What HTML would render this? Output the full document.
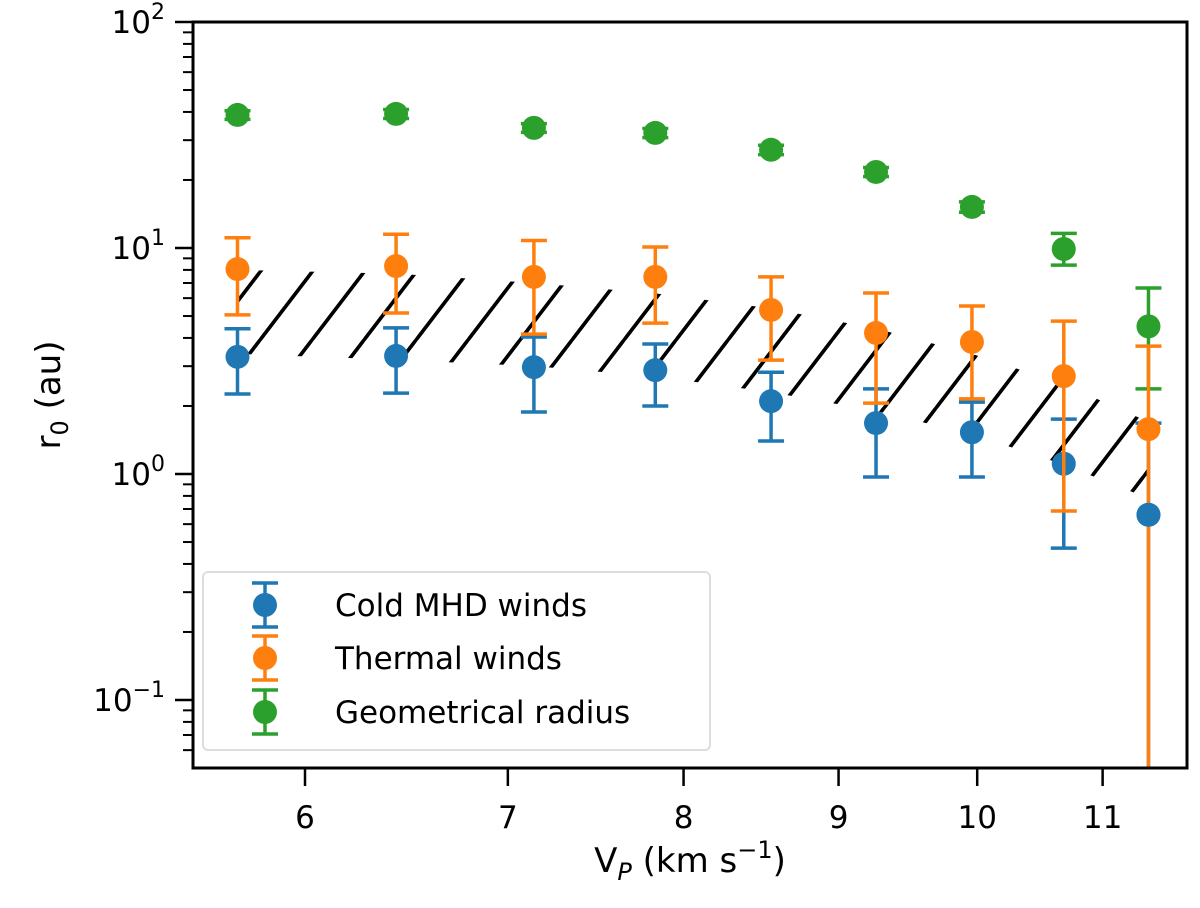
<!DOCTYPE html>
<html><head><meta charset="utf-8"><style>
html,body{margin:0;padding:0;background:#fff;}
svg{display:block;font-family:"DejaVu Sans","Liberation Sans",sans-serif;}
</style></head><body>
<svg id="chart" width="1200" height="908" viewBox="0 0 1200 908" xmlns="http://www.w3.org/2000/svg">
<defs>
<pattern id="hatch" patternUnits="userSpaceOnUse" width="52" height="68">
<line x1="-26" y1="102" x2="52" y2="0" stroke="#000" stroke-width="3.5"/>
<line x1="0" y1="68" x2="52" y2="0" stroke="#000" stroke-width="3.5"/>
<line x1="26" y1="102" x2="104" y2="0" stroke="#000" stroke-width="3.5"/>
<line x1="-26" y1="34" x2="26" y2="-34" stroke="#000" stroke-width="3.5"/>
</pattern>
<clipPath id="plotclip"><rect x="193" y="22" width="994" height="746"/></clipPath>
</defs>
<g id="plot" clip-path="url(#plotclip)"></g>
<g id="axes"></g>
</svg>
<script>
const xVals = [5.70, 6.43, 7.14, 7.83, 8.55, 9.26, 9.96, 10.68, 11.39];
const coldVal = [3.30, 3.33, 2.97, 2.88, 2.10, 1.68, 1.53, 1.11, 0.66];
const coldHi  = [4.39, 4.43, 4.04, 3.76, 2.82, 2.38, 2.08, 1.75, 1.68];
const coldLo  = [2.26, 2.28, 1.88, 2.00, 1.40, 0.97, 0.97, 0.47, 0.01];
const thermVal = [8.07, 8.32, 7.45, 7.45, 5.32, 4.21, 3.84, 2.71, 1.58];
const thermHi  = [11.1, 11.5, 10.8, 10.1, 7.45, 6.32, 5.54, 4.75, 3.68];
const thermLo  = [5.06, 5.16, 4.16, 4.65, 3.19, 2.06, 2.15, 0.686, 0.01];
const geoVal = [38.8, 39.2, 34.0, 32.3, 27.2, 21.7, 15.2, 9.9, 4.5];
const geoHi  = [40.5, 41.0, 35.5, 33.8, 28.5, 22.7, 16.0, 11.6, 6.65];
const geoLo  = [37.1, 37.4, 32.5, 30.8, 25.9, 20.7, 14.4, 8.4, 2.38];
const hatchUpper = [8.0, 7.7, 7.0, 6.3, 5.4, 4.4, 3.4, 2.5, 1.7];
const hatchLower = [3.4, 3.2, 3.0, 2.7, 2.3, 1.9, 1.5, 1.1, 0.78];
const xTicks = [6, 7, 8, 9, 10, 11];
const yMajor = [2, 1, 0, -1];

const NS = "http://www.w3.org/2000/svg";
const L=193,R=1187,T=22,B=768;
function xs(v){return 305 + (Math.log10(v)-Math.log10(6))*3030;}
function ys(v){return 22 + (2-Math.log10(v))*226;}
function mk(tag,attrs,parent){const e=document.createElementNS(NS,tag);for(const k in attrs)e.setAttribute(k,attrs[k]);parent.appendChild(e);return e;}
const plot=document.getElementById('plot'), axes=document.getElementById('axes');

let pts=[];
for(let i=0;i<xVals.length;i++)pts.push(xs(xVals[i])+','+ys(hatchUpper[i]));
for(let i=xVals.length-1;i>=0;i--)pts.push(xs(xVals[i])+','+ys(hatchLower[i]));
const hb=mk('polygon',{points:pts.join(' '),fill:'url(#hatch)'},plot);



function series(vals,hi,lo,color,name){
  const g=mk('g',{},plot);
  
  
  for(let i=0;i<xVals.length;i++){
    const x=xs(xVals[i]);
    const eb=mk('g',{stroke:color,'stroke-width':3.5},g);
    
    
    mk('line',{x1:x,x2:x,y1:ys(hi[i]),y2:ys(lo[i])},eb);
    mk('line',{x1:x-13,x2:x+13,y1:ys(hi[i]),y2:ys(hi[i])},eb);
    mk('line',{x1:x-13,x2:x+13,y1:ys(lo[i]),y2:ys(lo[i])},eb);
    const c=mk('circle',{cx:x,cy:ys(vals[i]),r:12,fill:color},g);
    
    
  }
}
series(geoVal,geoHi,geoLo,'#2ca02c','geometrical-radius');
series(coldVal,coldHi,coldLo,'#1f77b4','cold-mhd-winds');
series(thermVal,thermHi,thermLo,'#ff7f0e','thermal-winds');
// redraw last blue point on top (as in reference)
(function(){
  const i=xVals.length-1;
  const c=mk('circle',{cx:xs(xVals[i]),cy:ys(coldVal[i]),r:12,fill:'#1f77b4'},plot);
  
  
})();

const fr=mk('rect',{x:L,y:T,width:R-L,height:B-T,fill:'none',stroke:'#000','stroke-width':3},axes);



for(const t of xTicks){
  const x=xs(t);
  const tk=mk('line',{x1:x,x2:x,y1:B,y2:B+18,stroke:'#000','stroke-width':2.5},axes);
  
  
  const tx=mk('text',{x:x,y:B+60,'font-size':31,'text-anchor':'middle'},axes);
  tx.textContent=t;
  
  
}
for(const e of yMajor){
  const y=ys(Math.pow(10,e));
  const tk=mk('line',{x1:L-18,x2:L,y1:y,y2:y,stroke:'#000','stroke-width':2.5},axes);
  
  
  const tx=mk('text',{x:L-28,y:y+11,'font-size':31,'text-anchor':'end'},axes);
  
  
  const base=mk('tspan',{},tx);base.textContent='10';
  const sup=mk('tspan',{dy:-14,'font-size':22},tx);sup.textContent=(e<0?'\u2212'+(-e):String(e));
  for(let m=2;m<=9;m++){
    const v=Math.pow(10,e-1)*m;
    const yy=ys(v);
    if(yy>B||yy<T)continue;
    const mt=mk('line',{x1:L-10,x2:L,y1:yy,y2:yy,stroke:'#000','stroke-width':2},axes);
    
    
  }
}

const xl=mk('text',{x:690,y:872,'font-size':34,'text-anchor':'middle'},axes);


let t=mk('tspan',{},xl);t.textContent='V';
t=mk('tspan',{dy:8,'font-size':24,'font-style':'italic'},xl);t.textContent='P';
t=mk('tspan',{dy:-8},xl);t.textContent=' (km s';
t=mk('tspan',{dy:-14,'font-size':24},xl);t.textContent='\u22121';
t=mk('tspan',{dy:14},xl);t.textContent=')';
const yl=mk('text',{x:0,y:0,'font-size':34,'text-anchor':'middle',transform:'translate(60,395) rotate(-90)'},axes);


t=mk('tspan',{},yl);t.textContent='r';
t=mk('tspan',{dy:8,'font-size':24},yl);t.textContent='0';
t=mk('tspan',{dy:-8},yl);t.textContent=' (au)';

const lg=mk('g',{},axes);


mk('rect',{x:203,y:572,width:507,height:178,rx:5,fill:'#fff','fill-opacity':0.85,stroke:'#ddd','stroke-width':2},lg);
const entries=[['Cold MHD winds','#1f77b4',605],['Thermal winds','#ff7f0e',658],['Geometrical radius','#2ca02c',712]];
for(const [lab,col,y] of entries){
  const g=mk('g',{},lg);
  
  
  mk('line',{x1:265,x2:265,y1:y-22,y2:y+22,stroke:col,'stroke-width':3.5},g);
  mk('line',{x1:252,x2:278,y1:y-22,y2:y-22,stroke:col,'stroke-width':3.5},g);
  mk('line',{x1:252,x2:278,y1:y+22,y2:y+22,stroke:col,'stroke-width':3.5},g);
  mk('circle',{cx:265,cy:y,r:12,fill:col},g);
  const tx=mk('text',{x:335,y:y+11,'font-size':31},g);tx.textContent=lab;
}
</script>
</body></html>
